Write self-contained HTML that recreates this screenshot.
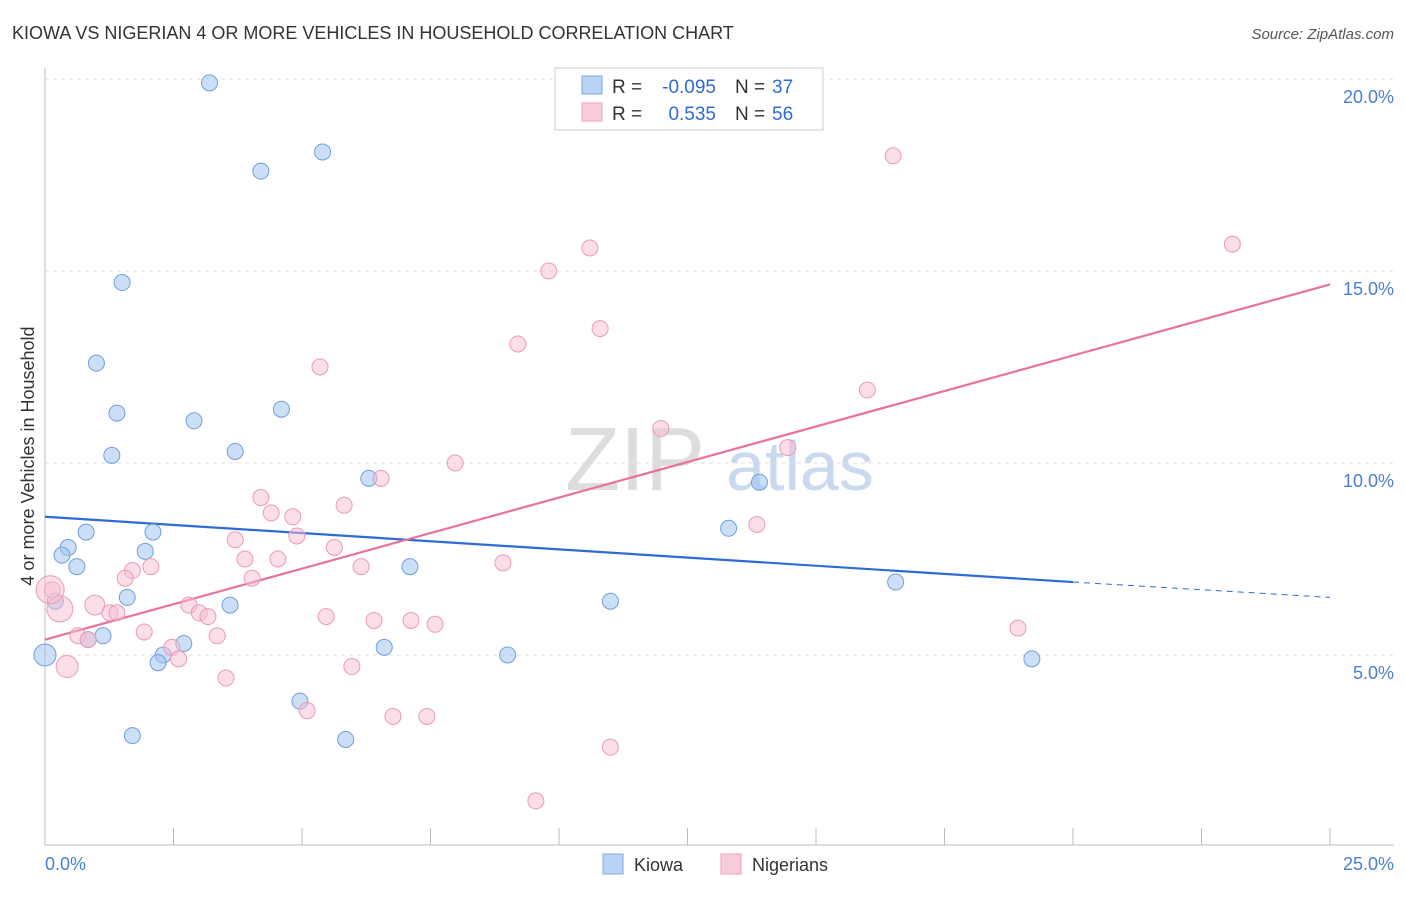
<!DOCTYPE html>
<html><head><meta charset="utf-8"><style>
body{margin:0;background:#fff;font-family:"Liberation Sans",sans-serif;}
svg text{font-family:"Liberation Sans",sans-serif;}
</style></head><body>
<svg id="chart" width="1406" height="892">
<text x="12" y="39" font-size="18" fill="#333">KIOWA VS NIGERIAN 4 OR MORE VEHICLES IN HOUSEHOLD CORRELATION CHART</text>
<text x="1394" y="39" font-size="15" fill="#555" text-anchor="end" font-style="italic">Source: ZipAtlas.com</text>
<text x="635" y="490" font-size="90" fill="#ddd" font-family="Liberation Serif" text-anchor="middle">ZIP</text>
<text x="800" y="490" font-size="70" fill="#c9d9ef" text-anchor="middle">atlas</text>
<g id="grid"></g><g id="axes"></g><g id="trend"></g><g id="pts"></g>
<text transform="translate(34,456) rotate(-90)" font-size="18" fill="#333" text-anchor="middle">4 or more Vehicles in Household</text>
<text x="45" y="870" font-size="18" fill="#4a7fd4">0.0%</text>
<text x="1394" y="870" font-size="18" fill="#4a7fd4" text-anchor="end">25.0%</text>
<g>
<rect x="555" y="68" width="268" height="62" fill="#fff" stroke="#ccc"/>
<rect x="582" y="76" width="20" height="18" fill="#b8d3f5" stroke="#7fa8e0"/>
<rect x="582" y="103" width="20" height="18" fill="#f9ccd9" stroke="#eea0b8"/>
<text x="612" y="93" font-size="19" fill="#333">R =</text>
<text x="716" y="93" font-size="19" fill="#2f6bd6" text-anchor="end">-0.095</text>
<text x="735" y="93" font-size="19" fill="#333">N =</text>
<text x="772" y="93" font-size="19" fill="#2f6bd6">37</text>
<text x="612" y="120" font-size="19" fill="#333">R =</text>
<text x="716" y="120" font-size="19" fill="#2f6bd6" text-anchor="end">0.535</text>
<text x="735" y="120" font-size="19" fill="#333">N =</text>
<text x="772" y="120" font-size="19" fill="#2f6bd6">56</text>
</g>
<g>
<rect x="603" y="854" width="20" height="20" fill="#b8d3f5" stroke="#7fa8e0"/>
<text x="634" y="871" font-size="18" fill="#333">Kiowa</text>
<rect x="721" y="854" width="20" height="20" fill="#f9ccd9" stroke="#eea0b8"/>
<text x="752" y="871" font-size="18" fill="#333">Nigerians</text>
</g>
</svg>
<script>
const yTicks=[5,10,15,20];
const yTickLabels=["5.0%","10.0%","15.0%","20.0%"];
const xTicks=[0,2.5,5,7.5,10,12.5,15,17.5,20,22.5,25];
const kiowaX=[3.2,4.2,5.4,1.5,1.0,1.4,2.9,4.6,1.3,3.7,6.3,0.8,2.1,0.45,0.33,1.95,0.62,7.1,1.6,0.2,3.6,11.0,0.84,1.13,2.7,2.3,2.2,0.0,6.6,9.0,4.96,1.7,5.85,13.3,13.9,16.55,19.2];
const kiowaY=[19.9,17.6,18.1,14.7,12.6,11.3,11.1,11.4,10.2,10.3,9.6,8.2,8.2,7.8,7.6,7.7,7.3,7.3,6.5,6.4,6.3,6.4,5.4,5.5,5.3,5.0,4.8,5.0,5.2,5.0,3.8,2.9,2.8,8.3,9.5,6.9,4.9];
const kiowaR=[8,8,8,8,8,8,8,8,8,8,8,8,8,8,8,8,8,8,8,8,8,8,8,8,8,8,8,11,8,8,8,8,8,8,8,8,8];
const nigX=[16.5,23.1,10.6,9.8,10.8,9.2,5.35,16.0,11.98,14.45,7.98,6.54,4.2,5.82,4.4,4.82,4.9,3.7,5.63,3.89,4.53,6.15,2.06,1.7,8.91,1.56,4.03,0.14,0.29,0.97,1.26,1.4,2.8,3.0,3.17,5.47,6.4,7.12,7.59,13.85,18.93,1.93,3.35,0.64,0.84,2.47,2.6,0.43,5.97,3.52,5.1,6.77,7.43,11.0,9.55,0.1];
const nigY=[18.0,15.7,15.6,15.0,13.5,13.1,12.5,11.9,10.9,10.4,10.0,9.6,9.1,8.9,8.7,8.6,8.1,8.0,7.8,7.5,7.5,7.3,7.3,7.2,7.4,7.0,7.0,6.7,6.2,6.3,6.1,6.1,6.3,6.1,6.0,6.0,5.9,5.9,5.8,8.4,5.7,5.6,5.5,5.5,5.4,5.2,4.9,4.7,4.7,4.4,3.55,3.4,3.4,2.6,1.2,6.7];
const nigR=[8,8,8,8,8,8,8,8,8,8,8,8,8,8,8,8,8,8,8,8,8,8,8,8,8,8,8,8,13,10,8,8,8,8,8,8,8,8,8,8,8,8,8,8,8,8,8,11,8,8,8,8,8,8,8,14];
const kiowaTrend=[8.6,6.9,6.5];
const nigTrend=[5.4,14.65];
const NS="http://www.w3.org/2000/svg";
const x0=45,x1=1330,yb=847,ypx=38.4;
function sx(v){return x0+(x1-x0)*v/25;}
function sy(v){return yb-v*ypx;}
function mk(tag,attrs,parent){const e=document.createElementNS(NS,tag);for(const k in attrs)e.setAttribute(k,attrs[k]);document.getElementById(parent).appendChild(e);return e;}
yTicks.forEach((t,i)=>{
 const l=mk('line',{x1:45,x2:1394,y1:sy(t),y2:sy(t),stroke:'#ddd','stroke-dasharray':'4,4'},'grid');
 
 
 const tx=mk('text',{x:1394,y:sy(t)+24,'font-size':18,fill:'#4a7fd4','text-anchor':'end'},'grid');
 tx.textContent=yTickLabels[i];
 
 
});
const ax=mk('line',{x1:45,x2:1394,y1:845,y2:845,stroke:'#bbb'},'axes');


const ay=mk('line',{x1:45,x2:45,y1:68,y2:845,stroke:'#bbb'},'axes');


xTicks.forEach(t=>{
 const l=mk('line',{x1:sx(t),x2:sx(t),y1:828,y2:845,stroke:'#bbb'},'axes');
 
 
});
let t1=mk('line',{x1:sx(0),y1:sy(kiowaTrend[0]),x2:sx(20),y2:sy(kiowaTrend[1]),stroke:'#2f6bd6','stroke-width':2.2},'trend');


let t2=mk('line',{x1:sx(20),y1:sy(kiowaTrend[1]),x2:sx(25),y2:sy(kiowaTrend[2]),stroke:'#2f6bd6','stroke-width':1,'stroke-dasharray':'6,5'},'trend');


let t3=mk('line',{x1:sx(0),y1:sy(nigTrend[0]),x2:sx(25),y2:sy(nigTrend[1]),stroke:'#e8729a','stroke-width':2.2},'trend');


kiowaX.forEach((v,i)=>{
 const c=mk('circle',{cx:sx(v),cy:sy(kiowaY[i]),r:kiowaR[i],fill:'rgba(160,196,240,0.55)',stroke:'#6f9edf','stroke-width':1},'pts');
 
 
});
nigX.forEach((v,i)=>{
 const c=mk('circle',{cx:sx(v),cy:sy(nigY[i]),r:nigR[i],fill:'rgba(248,190,208,0.5)',stroke:'#eb9ab5','stroke-width':1},'pts');
 
 
});
</script>
</body></html>
